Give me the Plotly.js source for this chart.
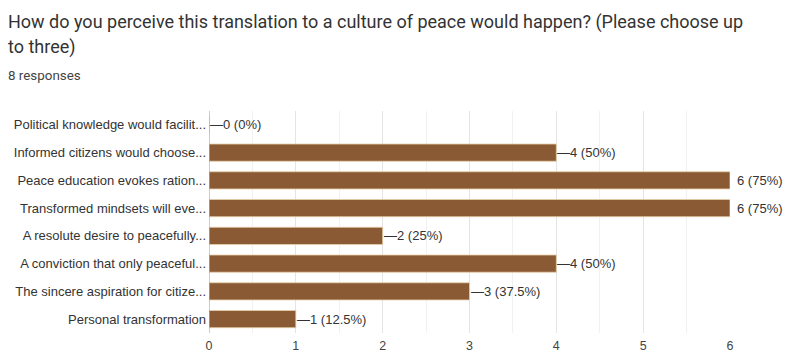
<!DOCTYPE html>
<html>
<head>
<meta charset="utf-8">
<script src="https://cdn.plot.ly/plotly-3.0.1.min.js"></script>
<style>html,body{margin:0;padding:0;background:#fff;}#chart{width:788px;height:354px;}</style>
</head>
<body>
<div id="chart"></div>
<script>
const categories = [
  "Political knowledge would facilit...",
  "Informed citizens would choose...",
  "Peace education evokes ration...",
  "Transformed mindsets will eve...",
  "A resolute desire to peacefully...",
  "A conviction that only peaceful...",
  "The sincere aspiration for citize...",
  "Personal transformation"
];
const counts = [0, 4, 6, 6, 2, 4, 3, 1];
const percents = ["0%", "50%", "75%", "75%", "25%", "50%", "37.5%", "12.5%"];
const totalResponses = 8;
const xMax = 6;
const titleLines = [
  "How do you perceive this translation to a culture of peace would happen? (Please choose up",
  "to three)"
];

const W = 788, H = 354;
const M = {l: 209, r: 58, t: 111, b: 21};
const PW = W - M.l - M.r, PH = H - M.t - M.b;
const px = x => (x - M.l) / PW;
const py = y => (H - M.b - y) / PH;

const barColor = "#8a5a34";
const labelFont = {family: "Liberation Sans, Arial, sans-serif", size: 13, color: "#333"};

const annotations = categories.map((c, i) => {
  const atMax = counts[i] >= xMax;
  return {
    x: counts[i], y: c, xref: "x", yref: "y",
    text: (atMax ? "" : "\u2014") + counts[i] + " (" + percents[i] + ")",
    showarrow: false, xanchor: "left", yanchor: "middle",
    xshift: atMax ? 5 : -1,
    font: labelFont
  };
});
const titleY = [22, 47];
titleLines.forEach((t, i) => {
  annotations.push({
    xref: "paper", yref: "paper", x: px(6), y: py(titleY[i]),
    xanchor: "left", yanchor: "middle", showarrow: false,
    text: t,
    font: {family: "Roboto, sans-serif", size: 18, color: "#333"}
  });
});
annotations.push({
  xref: "paper", yref: "paper", x: px(6), y: py(75),
  xanchor: "left", yanchor: "middle", showarrow: false,
  text: totalResponses + " responses",
  font: {family: "Roboto, sans-serif", size: 13.4, color: "#444"}
});

const trace = {
  type: "bar", orientation: "h",
  x: counts, y: categories,
  marker: {color: barColor, line: {color: "#e8cfa8", width: 0.8}},
  width: 0.62,
  hoverinfo: "none"
};

const layout = {
  width: W, height: H,
  margin: M,
  paper_bgcolor: "#fff", plot_bgcolor: "#fff",
  showlegend: false,
  xaxis: {
    range: [0, xMax], dtick: 1, tick0: 0,
    showgrid: true, gridcolor: "#e4e4e4", gridwidth: 1,
    minor: {dtick: 0.5, showgrid: true, gridcolor: "#f1f1f1"},
    zeroline: false, showline: false,
    tickfont: {family: "Liberation Sans, Arial, sans-serif", size: 12.5, color: "#444"},
    ticks: "", ticklabelstandoff: 3, fixedrange: true
  },
  yaxis: {
    autorange: "reversed", type: "category",
    showgrid: false, zeroline: false,
    showline: false,
    tickfont: labelFont, ticks: "", ticklabelstandoff: 2,
    fixedrange: true
  },
  shapes: [{
    type: "line", xref: "x", yref: "paper", x0: 0, x1: 0, y0: 0, y1: 1,
    line: {color: "#9a9a9a", width: 1}
  }],
  annotations: annotations
};

Plotly.newPlot("chart", [trace], layout, {displayModeBar: false, staticPlot: true});
</script>
</body>
</html>
